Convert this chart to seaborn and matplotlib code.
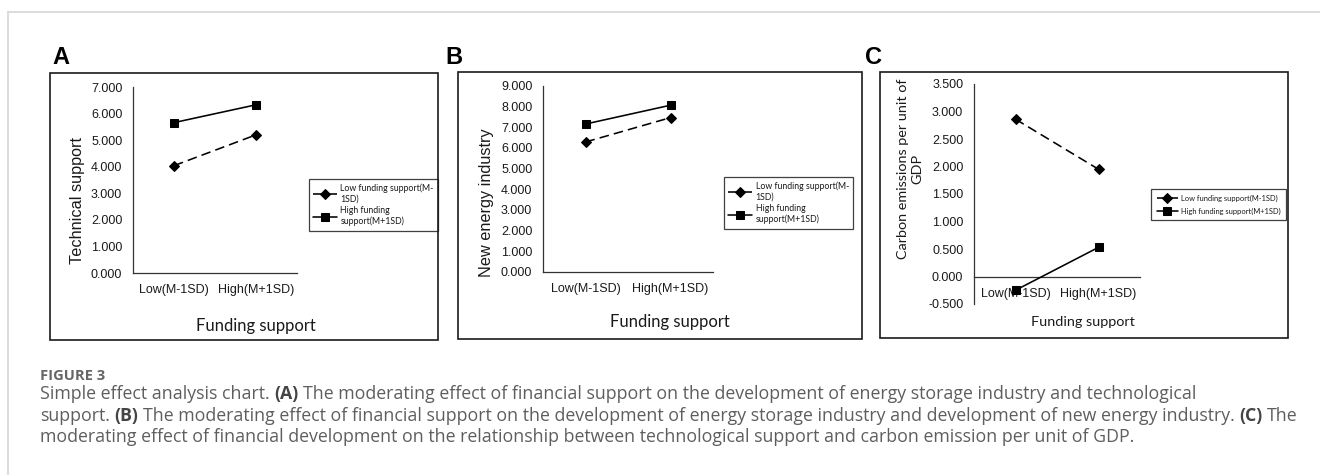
import numpy as np
import pandas as pd
import matplotlib
matplotlib.use("Agg")
import matplotlib.pyplot as plt
import seaborn as sns
from matplotlib.patches import Rectangle
from matplotlib.lines import Line2D

# ---------------- data ----------------
categories = ["Low(M-1SD)", "High(M+1SD)"]
series_names = ["Low funding support(M-1SD)", "High funding support(M+1SD)"]

a_low = [4.04, 5.20]
a_high = [5.66, 6.33]
b_low = [6.29, 7.47]
b_high = [7.16, 8.07]
c_low = [2.86, 1.95]
c_high = [-0.25, 0.53]

a_yticks = [0, 1, 2, 3, 4, 5, 6, 7]
b_yticks = [0, 1, 2, 3, 4, 5, 6, 7, 8, 9]
c_yticks = [-0.5, 0.0, 0.5, 1.0, 1.5, 2.0, 2.5, 3.0, 3.5]

a_ylabel = "Technical support"
b_ylabel = "New energy industry"
c_ylabel = "Carbon emissions per unit of\nGDP"
x_title = "Funding support"

legend_ab = ["Low funding support(M-\n1SD)", "High funding\nsupport(M+1SD)"]
legend_c = ["Low funding support(M-1SD)", "High funding support(M+1SD)"]

# ---------------- setup ----------------
sns.set_theme(style="white")
plt.rcParams["font.family"] = ["Liberation Sans", "DejaVu Sans"]

W, H = 1320, 475
fig = plt.figure(figsize=(W / 100, H / 100), dpi=100)
fig.patch.set_facecolor("white")


def rect(x0, y0, x1, y1):
    return [x0 / W, 1 - y1 / H, (x1 - x0) / W, (y1 - y0) / H]


def fx(x):
    return x / W


def fy(y):
    return 1 - y / H


# outer card frame (left + top)
fig.add_artist(Line2D([fx(7.5), fx(7.5)], [fy(12), 0], color="#d6d6d6", lw=1.2))
fig.add_artist(Line2D([fx(7.5), 1], [fy(12), fy(12)], color="#d6d6d6", lw=1.2))

# panel frames
for (x0, y0, x1, y1) in [(50, 73, 438, 340), (458, 72, 862, 339), (880, 72, 1288, 338)]:
    fig.add_artist(Rectangle((fx(x0), fy(y1)), (x1 - x0) / W, (y1 - y0) / H,
                             fill=False, ec="#1a1a1a", lw=1.2, transform=fig.transFigure))

# panel letters
for x, s in [(52, "A"), (445, "B"), (865, "C")]:
    fig.text(fx(x), fy(64), s, fontsize=17, weight="bold", color="black",
             family=["Liberation Sans", "DejaVu Sans"], ha="left", va="baseline")


def make_panel(box, low, high, yticks, ylim, cross_zero=False):
    ax = fig.add_axes(rect(*box))
    ax.set_facecolor("none")
    df = pd.DataFrame({
        "pos": [0, 1, 0, 1],
        "value": list(low) + list(high),
        "series": [series_names[0]] * 2 + [series_names[1]] * 2,
    })
    sns.lineplot(data=df, x="pos", y="value", style="series",
                 markers={series_names[0]: "D", series_names[1]: "s"},
                 dashes={series_names[0]: (6, 3.2), series_names[1]: ""},
                 color="black", linewidth=1.15, markeredgecolor="black",
                 legend=False, ax=ax)
    for ln in ax.get_lines():
        ln.set_zorder(6)
        ln.set_clip_on(False)
        ln.set_markersize(4.6 if ln.get_marker() == "D" else 6.4)
    ax.set_xlim(-0.5, 1.5)
    ax.set_ylim(*ylim)
    ax.set_xticks([0, 1])
    ax.set_xticks([-0.5, 1.5], minor=True)
    ax.set_xticklabels(categories)
    ax.set_yticks(yticks)
    ax.set_yticklabels([f"{v:.3f}" for v in yticks])
    ax.set_xlabel("")
    ax.set_ylabel("")
    for side in ["top", "right"]:
        ax.spines[side].set_visible(False)
    for side in ["left", "bottom"]:
        ax.spines[side].set_color("#333333")
        ax.spines[side].set_linewidth(0.9)
    if cross_zero:
        ax.spines["bottom"].set_position(("data", 0))
    ax.tick_params(axis="both", which="both", direction="out", length=3.2,
                   width=0.9, color="#333333", labelsize=9, labelcolor="#1a1a1a")
    ax.tick_params(axis="y", pad=4.5)
    ax.tick_params(axis="x", pad=5)
    ax.grid(False)
    return ax


axA = make_panel((133, 87, 297, 273), a_low, a_high, a_yticks, (0, 7))
axB = make_panel((543, 86, 713, 272), b_low, b_high, b_yticks, (0, 9))
axC = make_panel((974, 84, 1140, 304), c_low, c_high, c_yticks, (-0.5, 3.5), cross_zero=True)

# axis titles
fig.text(fx(77.5), fy(200), a_ylabel, rotation=90, fontsize=11.7, color="#1a1a1a",
         ha="center", va="center")
fig.text(fx(486), fy(203), b_ylabel, rotation=90, fontsize=11.7, color="#1a1a1a",
         ha="center", va="center")
fig.text(fx(910), fy(169), c_ylabel, rotation=90, fontsize=10.4, color="#1a1a1a",
         ha="center", va="center", family=["Lato", "DejaVu Sans"], linespacing=1.3)
fig.text(fx(256), fy(326), x_title, fontsize=12, color="#1a1a1a", ha="center",
         va="center", family=["Lato", "DejaVu Sans"])
fig.text(fx(670), fy(322.5), x_title, fontsize=12, color="#1a1a1a", ha="center",
         va="center", family=["Lato", "DejaVu Sans"])
fig.text(fx(1083), fy(322), x_title, fontsize=10.4, color="#1a1a1a", ha="center",
         va="center", family=["Lato", "DejaVu Sans"])

# legends
for ax, labels, anchor, size, lsp, bpad, hl in [(axA, legend_ab, (309, 179), 6.3, 0.35, 0.5, 2.7),
                                                (axB, legend_ab, (724, 177), 6.3, 0.35, 0.5, 2.7),
                                                (axC, legend_c, (1151, 189), 5.4, 0.75, 0.75, 2.8)]:
    leg = ax.legend(ax.get_lines(), labels, loc="upper left",
                    bbox_to_anchor=(fx(anchor[0]), fy(anchor[1])),
                    bbox_transform=fig.transFigure, frameon=True, fancybox=False,
                    edgecolor="#111111", prop={"family": ["Lato", "DejaVu Sans"], "size": size},
                    handlelength=hl, handletextpad=0.4, borderpad=bpad,
                    labelspacing=lsp, borderaxespad=0)
    leg.get_frame().set_linewidth(0.9)
    for t in leg.get_texts():
        t.set_color("#1a1a1a")

# caption
cap_family = ["Open Sans", "DejaVu Sans"]
fig.text(fx(40), fy(379.5), "FIGURE 3", fontsize=10.6, weight="bold", color="#666666",
         family=cap_family, ha="left", va="baseline")

cap_lines = [
    [("Simple effect analysis chart.", False), ("(A)", True),
     ("The moderating effect of financial support on the development of energy storage industry and technological", False)],
    [("support.", False), ("(B)", True),
     ("The moderating effect of financial support on the development of energy storage industry and development of new energy industry.", False),
     ("(C)", True), ("The", False)],
    [("moderating effect of financial development on the relationship between technological support and carbon emission per unit of GDP.", False)],
]
cap_baselines = [399.3, 420.7, 441.7]
renderer = fig.canvas.get_renderer()


def measure(s, size, bold):
    t = fig.text(0, 0, s, fontsize=size, weight="bold" if bold else "normal", family=cap_family)
    w = t.get_window_extent(renderer).width
    t.remove()
    return w


def line_width(segs, size):
    sp = measure("x x", size, False) - measure("xx", size, False)
    return sum(measure(s, size, b) for s, b in segs) + sp * (len(segs) - 1)


cap_size = 12.0
target = 1292 - 40
for _ in range(3):
    cap_size = cap_size * target / line_width(cap_lines[1], cap_size)

for segs, yb in zip(cap_lines, cap_baselines):
    sp = measure("x x", cap_size, False) - measure("xx", cap_size, False)
    x = 40.0
    for s, b in segs:
        t = fig.text(fx(x), fy(yb), s, fontsize=cap_size, weight="bold" if b else "normal",
                     color="#444444" if b else "#5e5e5e", family=cap_family,
                     ha="left", va="baseline")
        x += t.get_window_extent(renderer).width + sp

fig.savefig("out.png", dpi=100, facecolor="white")
